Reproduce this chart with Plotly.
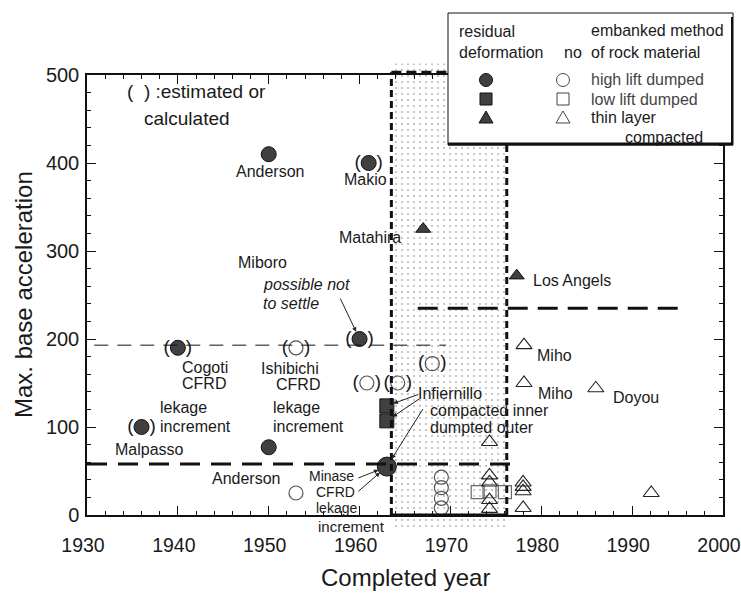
import plotly.graph_objects as go

FONT = "Liberation Sans, Arial, Helvetica, sans-serif"
INK = "#1a1a1a"

# ---------------- data: completed year vs. max. base acceleration ----------------
# residual deformation observed (filled symbols)
def_hl_year = [1950, 1961, 1940, 1960, 1936, 1950]          # high lift dumped
def_hl_acc = [410, 400, 190, 200, 100, 77]
def_hl_est = [False, True, True, True, True, False]
minase_year = [1963]                                          # Minase CFRD
minase_acc = [55]
def_ll_year = [1963, 1963]                                    # low lift dumped (Infiernillo)
def_ll_acc = [124, 107]
def_tl_year = [1967, 1977.3]                                  # thin layer compacted
def_tl_acc = [325, 272]

# no residual deformation (open symbols)
no_hl_year = [1953, 1953, 1960.8, 1964.2, 1968, 1969, 1969, 1969, 1969]
no_hl_acc = [190, 25, 150, 150, 172, 43, 31, 19, 8]
no_hl_est = [True, False, True, True, True, False, False, False, False]
no_ll_year = [1973, 1974.3, 1976]
no_ll_acc = [26, 27, 26]
no_tl_year = [1974.3, 1974.3, 1974.3, 1974.3, 1974.3,
              1978, 1978, 1978, 1978, 1978.1, 1978.1, 1986, 1992.1]
no_tl_acc = [83, 45, 37, 17, 7, 37, 32, 27, 8, 193, 150, 144, 25]

# reference levels and the shaded period
thin_level, thin_from, thin_to = 193, 1930.8, 1969.5
low_level, low_from, low_to = 58, 1930, 1976.6
high_level, high_from, high_to = 235, 1966.4, 1995.3
zone_from, zone_to, zone_top = 1963.5, 1976.2, 503
shade_bottom, shade_top = -17, 513

x_ticks = [1930, 1940, 1950, 1960, 1970, 1980, 1990, 2000]
y_ticks = [0, 100, 200, 300, 400, 500]

# ---------------- page geometry ----------------
W, H = 741, 593
ML, MR, MT, MB = 87, 18, 55, 55
PLOT_TOP, PLOT_BOTTOM = 75, 515          # pixel rows of acc = 500 and acc = 0
paper_h = H - MT - MB
paper_w = W - ML - MR
ppu = (PLOT_BOTTOM - PLOT_TOP) / 500.0
y_dom = [(H - MB - PLOT_BOTTOM) / paper_h, (H - MB - PLOT_TOP) / paper_h]
ext_range = [-(H - MB - PLOT_BOTTOM) / ppu, 500 + (PLOT_TOP - MT) / ppu]


def px(xp):
    return (xp - ML) / paper_w


def py(yp):
    return (H - MB - yp) / paper_h


def pick(vals, flags):
    return [v for v, f in zip(vals, flags) if f]


fig = go.Figure()

# stippled period (drawn on an extended, hidden pair of axes so it may overhang the frame)
fig.add_trace(go.Scatter(
    x=[zone_from, zone_to, zone_to, zone_from, zone_from],
    y=[shade_bottom, shade_bottom, shade_top, shade_top, shade_bottom],
    mode="lines", line=dict(width=0), fill="toself",
    fillcolor="rgba(255,255,255,0)",
    fillpattern=dict(shape=".", size=6, solidity=0.1, fgcolor="#6f6f6f",
                     bgcolor="rgba(255,255,255,0)"),
    xaxis="x", yaxis="y", hoverinfo="skip", showlegend=False))

filled = dict(color="#404040", line=dict(color="#111111", width=1))


def add_points(x, y, symbol, size, marker_extra):
    m = dict(symbol=symbol, size=size)
    m.update(marker_extra)
    fig.add_trace(go.Scatter(x=x, y=y, mode="markers", marker=m,
                             xaxis="x2", yaxis="y2", showlegend=False,
                             cliponaxis=False))


add_points(def_hl_year, def_hl_acc, "circle", 15, filled)
add_points(minase_year, minase_acc, "circle", 19, filled)
add_points(def_ll_year, def_ll_acc, "square", 14, filled)
add_points(def_tl_year, def_tl_acc, "triangle-up", 13, filled)
add_points(no_hl_year, no_hl_acc, "circle-open", 14,
           dict(color="#555555", line=dict(width=1.2)))
add_points(no_ll_year, no_ll_acc, "square-open", 13,
           dict(color="#6a6a6a", line=dict(width=1.2)))
add_points(no_tl_year, no_tl_acc, "triangle-up-open", 14,
           dict(color="#222222", line=dict(width=1.1)))

# parentheses around estimated / calculated values
est_x = pick(def_hl_year, def_hl_est) + pick(no_hl_year, no_hl_est)
est_y = pick(def_hl_acc, def_hl_est) + pick(no_hl_acc, no_hl_est)
fig.add_trace(go.Scatter(
    x=est_x, y=est_y, mode="text", text=["(\u00a0\u00a0\u00a0)"] * len(est_x),
    textposition="middle center", textfont=dict(family=FONT, size=19, color=INK),
    xaxis="x2", yaxis="y2", showlegend=False, cliponaxis=False))

# ---------------- shapes ----------------
shapes = []


def hline(level, x0, x1, width, dash):
    shapes.append(dict(type="line", xref="x", yref="y", x0=x0, x1=x1, y0=level, y1=level,
                       line=dict(color="#111111", width=width, dash=dash)))


def vline(x, y0, y1, width, dash):
    shapes.append(dict(type="line", xref="x", yref="y", x0=x, x1=x, y0=y0, y1=y1,
                       line=dict(color="#111111", width=width, dash=dash)))


hline(thin_level, thin_from, thin_to, 1, "14px,9px")
hline(low_level, low_from, low_to, 3, "20px,11px")
hline(high_level, high_from, high_to, 3, "20px,10px")
vline(zone_from, 0, zone_top, 3, "7px,4px")
vline(zone_to, 0, zone_top, 3, "7px,4px")
hline(zone_top, zone_from, zone_to, 3, "10px,5px")
hline(0, zone_from, zone_to, 3, "solid")

# legend box with a heavier lower edge
LB_L, LB_R, LB_T, LB_B = 448, 733, 13, 145
shapes.append(dict(type="rect", xref="paper", yref="paper", x0=px(LB_L), x1=px(LB_R),
                   y0=py(LB_B), y1=py(LB_T), fillcolor="white",
                   line=dict(color="#111111", width=1), layer="above"))
shapes.append(dict(type="line", xref="paper", yref="paper", x0=px(LB_L), x1=px(LB_R),
                   y0=py(LB_B - 1), y1=py(LB_B - 1), line=dict(color="#111111", width=3)))
shapes.append(dict(type="line", xref="paper", yref="paper", x0=px(LB_R - 1), x1=px(LB_R - 1),
                   y0=py(LB_B), y1=py(LB_T + 4), line=dict(color="#111111", width=2)))


def key_symbol(cx, cy, kind, solid):
    fill = "#404040" if solid else "rgba(0,0,0,0)"
    col = "#111111" if solid else "#444444"
    base = dict(xref="paper", yref="paper", xsizemode="pixel", ysizemode="pixel",
                xanchor=px(cx), yanchor=py(cy), fillcolor=fill,
                line=dict(color=col, width=1))
    if kind == "circle":
        base.update(type="circle", x0=-6.5, x1=6.5, y0=-6.5, y1=6.5)
    elif kind == "square":
        base.update(type="rect", x0=-6, x1=6, y0=-6, y1=6)
    else:
        base.update(type="path", path="M-7,-5 L7,-5 L0,7 Z")
    shapes.append(base)


for row, kind in zip([80, 99, 118], ["circle", "square", "triangle"]):
    key_symbol(486, row, kind, True)
    key_symbol(563, row, kind, False)

# ---------------- annotations ----------------
ann = []


def label(text, x, y, anchor="center", size=16, ref=("x", "y"), color=INK):
    ann.append(dict(text=text, x=x, y=y, xref=ref[0], yref=ref[1], xanchor=anchor,
                    yanchor="middle", showarrow=False,
                    font=dict(family=FONT, size=size, color=color)))


label("(\u00a0\u00a0) :estimated or", 1934.2, 480.7, "left", 19)
label("calculated", 1936.0, 451, "left", 19)
label("Anderson", 1950.2, 390)
label("Makio", 1960.7, 381)
label("Matahira", 1961.1, 315)
label("Miboro", 1949.3, 287.5)
label("<i>possible not</i>", 1949.2, 261.4, "left")
label("<i>to settle</i>", 1949.2, 240.9, "left")
label("Cogoti", 1940.2, 168, "left")
label("CFRD", 1940.2, 150, "left")
label("Ishibichi", 1955.8, 167, "right")
label("CFRD", 1955.9, 148, "right")
label("lekage", 1937.8, 121.6, "left")
label("increment", 1937.8, 101, "left")
label("lekage", 1950.3, 121.6, "left")
label("increment", 1950.3, 101, "left")
label("Malpasso", 1936.9, 74)
label("Anderson", 1947.5, 42)
label("Minase", 1956.9, 44, size=14)
label("CFRD", 1957.3, 26, size=14)
label("lekage", 1957.5, 8, size=14)
label("increment", 1959.1, -13.6, size=15)
label("Infiernillo", 1970.0, 138.6)
label("compacted inner", 1967.5, 119.3, "left")
label("dumpted outer", 1967.5, 100, "left")
label("Los Angels", 1983.4, 267)
label("Miho", 1981.5, 180.7)
label("Miho", 1981.6, 138.6)
label("Doyou", 1990.4, 134)

# legend texts
lp = ("paper", "paper")
label("residual", px(457), py(32), "left", 16, lp)
label("deformation", px(457), py(53), "left", 16, lp)
label("no", px(562), py(53), "left", 16, lp)
label("embanked method", px(589), py(31), "left", 16, lp)
label("of rock material", px(589), py(53), "left", 16, lp)
label("high lift dumped", px(589), py(79), "left", 16, lp, "#444444")
label("low lift dumped", px(589), py(99), "left", 16, lp, "#444444")
label("thin layer", px(589), py(117), "left", 16, lp)
label("compacted", px(623), py(137), "left", 16, lp)

# axis titles
label("Completed year", 0.5, py(577), "center", 24, lp)
ann.append(dict(text="Max. base acceleration", x=px(23), y=py(295), xref="paper",
                yref="paper", textangle=-90, showarrow=False, xanchor="center",
                yanchor="middle", font=dict(family=FONT, size=24, color=INK)))


def arrow(x, y, ax, ay, standoff=8):
    ann.append(dict(text="", x=x, y=y, xref="x2", yref="y2", ax=ax, ay=ay,
                    showarrow=True, arrowhead=2, arrowsize=0.9, arrowwidth=1,
                    arrowcolor="#222222", standoff=standoff))


arrow(def_hl_year[3], def_hl_acc[3], -20, -42)          # possible not to settle
arrow(minase_year[0], minase_acc[0], -30, 12, 9)         # Minase
arrow(minase_year[0], minase_acc[0], -30, 26, 9)
arrow(def_ll_year[0], def_ll_acc[0], 33, -12, 7)         # Infiernillo
arrow(def_ll_year[1], def_ll_acc[1], 34, -23, 7)
arrow(minase_year[0], minase_acc[0], 37, -59, 9)

# ---------------- layout ----------------
axis_common = dict(showgrid=False, zeroline=False, showline=True, linecolor="#111111",
                   linewidth=1.5, mirror="allticks", ticks="inside", ticklen=9,
                   tickwidth=1, tickcolor="#111111", ticklabeloverflow="allow",
                   automargin=False)

fig.update_layout(
    width=W, height=H, margin=dict(l=ML, r=MR, t=MT, b=MB, autoexpand=False),
    paper_bgcolor="white", plot_bgcolor="rgba(0,0,0,0)",
    showlegend=False, shapes=shapes, annotations=ann,
    xaxis=dict(domain=[0, 1], range=[1930, 2000], visible=False, anchor="y"),
    yaxis=dict(domain=[0, 1], range=ext_range, visible=False, anchor="x"),
    xaxis2=dict(domain=[0, 1], range=[1930, 2000], anchor="y2", tickvals=x_ticks,
                minor=dict(dtick=2, ticks="inside", ticklen=4, tickcolor="#111111"),
                ticklabelstandoff=12, ticklabelshift=-4,
                tickfont=dict(family=FONT, size=19.5, color=INK), **axis_common),
    yaxis2=dict(domain=y_dom, range=[0, 500], anchor="x2", tickvals=y_ticks,
                minor=dict(dtick=20, ticks="inside", ticklen=4, tickcolor="#111111"),
                ticklabelstandoff=2,
                tickfont=dict(family=FONT, size=20, color=INK), **axis_common),
)

fig.write_html("out.html")
